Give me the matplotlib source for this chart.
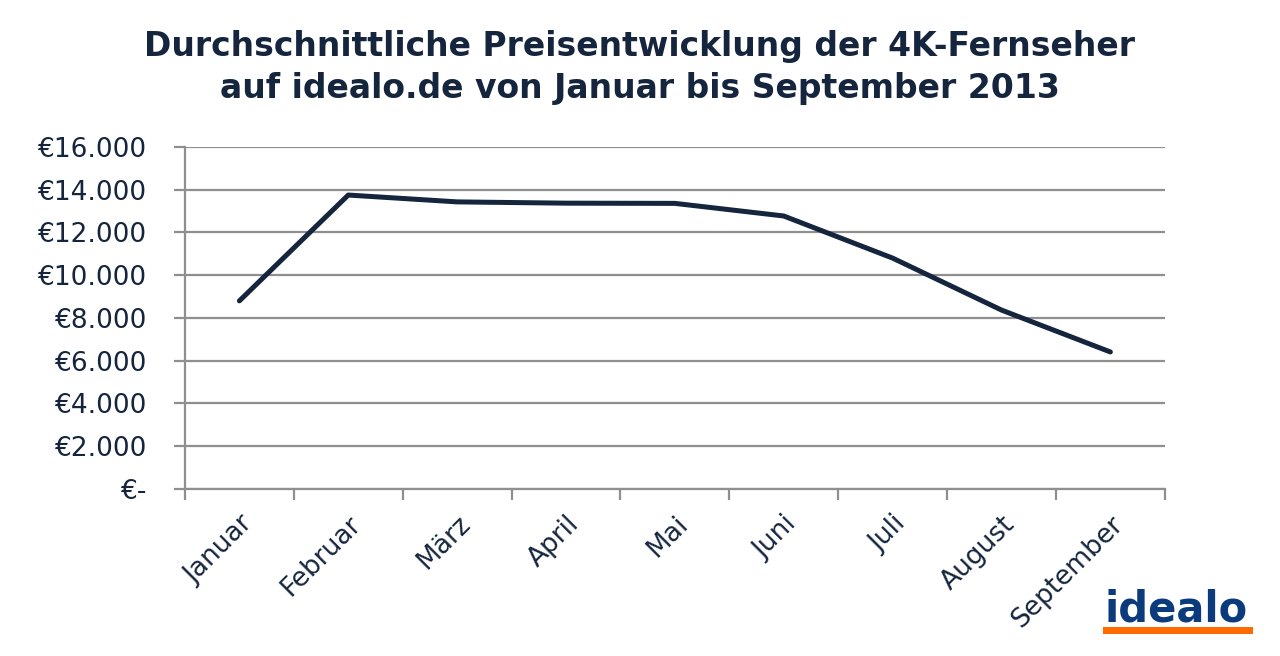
import matplotlib
matplotlib.use("Agg")
import matplotlib.pyplot as plt
from matplotlib.patches import Rectangle

# data
months = ["Januar", "Februar", "März", "April", "Mai", "Juni", "Juli", "August", "September"]
prices = [8800, 13750, 13430, 13370, 13360, 12770, 10800, 8370, 6410]
y_ticks = [0, 2000, 4000, 6000, 8000, 10000, 12000, 14000, 16000]
y_labels = ["€-", "€2.000", "€4.000", "€6.000", "€8.000", "€10.000", "€12.000", "€14.000", "€16.000"]

navy = "#14253d"
grid_gray = "#8f8f8f"

fig = plt.figure(figsize=(12.8, 6.56), dpi=100)
ax = fig.add_axes([0.1445, 0.2546, 0.7655, 0.5214])

x = list(range(len(months)))
ax.plot(x, prices, color=navy, linewidth=3.6, solid_capstyle="round", solid_joinstyle="round", zorder=3)

ax.set_xlim(-0.5, len(months) - 0.5)
ax.set_ylim(0, 16000)
ax.set_yticks(y_ticks)
ax.set_yticklabels(y_labels, fontsize=19, color=navy)
ax.yaxis.grid(True, color=grid_gray, linewidth=1.6)
ax.set_axisbelow(True)

# labels at category centres, tick marks at the boundaries
ax.set_xticks(x)
ax.set_xticklabels(months, rotation=45, ha="right", rotation_mode="anchor",
                   fontsize=19, color=navy)
ax.set_xticks([i - 0.5 for i in range(len(months) + 1)], minor=True)
ax.tick_params(axis="x", which="major", length=0, pad=16)
ax.tick_params(axis="x", which="minor", length=8, width=1.6, color=grid_gray, direction="out")
ax.tick_params(axis="y", length=8, width=1.6, color=grid_gray, pad=19)

for side in ["top", "right"]:
    ax.spines[side].set_visible(False)
for side in ["left", "bottom"]:
    ax.spines[side].set_color(grid_gray)
    ax.spines[side].set_linewidth(1.6)

fig.text(0.5, 0.897, "Durchschnittliche Preisentwicklung der 4K-Fernseher\nauf idealo.de von Januar bis September 2013",
         ha="center", va="center", fontsize=23.8, fontweight="bold", color=navy, linespacing=1.35)

# logo
fig.text(0.975, 0.052, "idealo", ha="right", va="baseline", fontsize=30, fontweight="bold", color="#0b3b7c")
fig.patches.append(Rectangle((0.862, 0.034), 0.117, 0.010, transform=fig.transFigure,
                             facecolor="#ff6a00", edgecolor="none"))

fig.savefig("out.png", dpi=100)
